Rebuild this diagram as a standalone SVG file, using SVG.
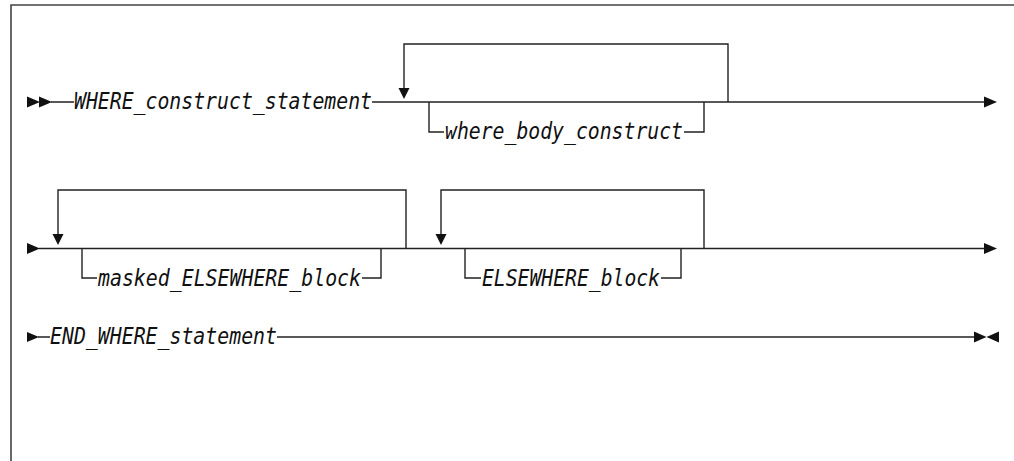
<svg xmlns="http://www.w3.org/2000/svg" width="1014" height="461" viewBox="0 0 1014 461">
<style>
.ln{fill:none;stroke:#222;stroke-width:1.4}
.fr{fill:none;stroke:#444;stroke-width:1.6}
.ah{fill:#111;stroke:none}
.t{font-family:"DejaVu Sans Mono","Liberation Mono",monospace;font-style:italic;font-size:22.5px;fill:#111}
</style>
<rect x="0" y="0" width="1014" height="461" fill="#fff"/>
<g id="frame"><path class="fr" d="M11,461 V5 H1014"/></g>
<g id="connectors">
<!-- row 1 -->
<path class="ln" d="M51,102 H74 M372,102 H986"/>
<path class="ln" d="M404,88 V44 H728 V102"/>
<path class="ln" d="M429,102 V132 H444 M684,132 H704 V102"/>
<polygon class="ah" points="27,96.5 40,102 27,107.5"/>
<polygon class="ah" points="39,96.5 52,102 39,107.5"/>
<polygon class="ah" points="398.5,88 409.5,88 404,99"/>
<polygon class="ah" points="984,96.5 997,102 984,107.5"/>
<!-- row 2 -->
<path class="ln" d="M39,248.5 H986"/>
<path class="ln" d="M58,234 V190 H406 V248.5"/>
<path class="ln" d="M82,248.5 V278 H97 M362,278 H381 V248.5"/>
<path class="ln" d="M441,234 V190 H704 V248.5"/>
<path class="ln" d="M465,248.5 V278 H481 M661,278 H681 V248.5"/>
<polygon class="ah" points="27,243 40,248.5 27,254"/>
<polygon class="ah" points="52.5,234 63.5,234 58,245"/>
<polygon class="ah" points="435.5,234 446.5,234 441,245"/>
<polygon class="ah" points="984,243 997,248.5 984,254"/>
<!-- row 3 -->
<path class="ln" d="M38,337 H50 M277,337 H976"/>
<polygon class="ah" points="27,332 39,337 27,342"/>
<polygon class="ah" points="974,331.5 986.5,337 974,342.5"/>
<polygon class="ah" points="999,331.5 986.5,337 999,342.5"/>
</g>
<g id="n_where_construct"><text class="t" x="74" y="109" textLength="298" lengthAdjust="spacingAndGlyphs">WHERE_construct_statement</text></g>
<g id="n_where_body"><text class="t" x="445" y="139" textLength="238" lengthAdjust="spacingAndGlyphs">where_body_construct</text></g>
<g id="n_masked_elsewhere"><text class="t" x="98" y="285.5" textLength="263" lengthAdjust="spacingAndGlyphs">masked_ELSEWHERE_block</text></g>
<g id="n_elsewhere"><text class="t" x="482" y="285.5" textLength="178" lengthAdjust="spacingAndGlyphs">ELSEWHERE_block</text></g>
<g id="n_end_where"><text class="t" x="50" y="344" textLength="227" lengthAdjust="spacingAndGlyphs">END_WHERE_statement</text></g>
</svg>
